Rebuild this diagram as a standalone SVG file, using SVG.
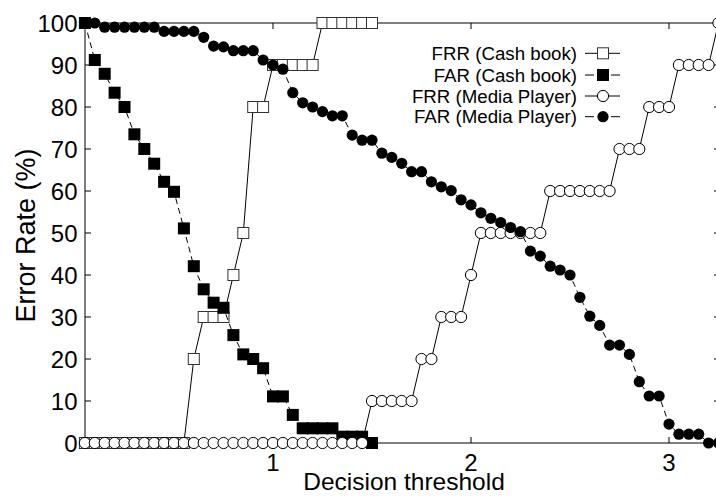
<svg xmlns="http://www.w3.org/2000/svg" xmlns:xlink="http://www.w3.org/1999/xlink" width="716" height="497" viewBox="0 0 716 497">
<style>
text{font-family:"Liberation Sans",Arial,sans-serif;fill:#000}
.tick{font-size:24px}
.ytl{text-anchor:end}
.xtl{text-anchor:middle}
.leg{font-size:18.7px;text-anchor:end}
.ax{stroke:#000;stroke-width:1;fill:none}
.solid{stroke:#000;stroke-width:1;fill:none}
.dash{stroke:#000;stroke-width:1;fill:none;stroke-dasharray:6,4}
</style>
<defs>
<rect id="os" x="-5.5" y="-5.5" width="11" height="11" fill="#fff" stroke="#333" stroke-width="1"/>
<rect id="fs" x="-6" y="-6" width="12" height="12" fill="#000"/>
<circle id="oc" r="5.6" fill="#fff" stroke="#000" stroke-width="1"/>
<circle id="fc" r="5.6" fill="#000"/>
</defs>
<rect width="716" height="497" fill="#fff"/>
<g id="axes">
<path class="ax" d="M85,23V443H720M85,23H720"/>
<path class="ax" d="M85,401h6M85,359h6M85,317h6M85,275h6M85,233h6M85,191h6M85,149h6M85,107h6M85,65h6"/>
<path class="ax" d="M714,401h6M714,359h6M714,317h6M714,275h6M714,233h6M714,191h6M714,149h6M714,107h6M714,65h6"/>
<path class="ax" d="M273,443v-6M471,443v-6M669,443v-6M273,23v6M471,23v6M669,23v6"/>
<g class="tick">
<text class="ytl" x="77.5" y="451.6">0</text>
<text class="ytl" x="77.5" y="409.6">10</text>
<text class="ytl" x="77.5" y="367.6">20</text>
<text class="ytl" x="77.5" y="325.6">30</text>
<text class="ytl" x="77.5" y="283.6">40</text>
<text class="ytl" x="77.5" y="241.6">50</text>
<text class="ytl" x="77.5" y="199.6">60</text>
<text class="ytl" x="77.5" y="157.6">70</text>
<text class="ytl" x="77.5" y="115.6">80</text>
<text class="ytl" x="77.5" y="73.6">90</text>
<text class="ytl" x="77.5" y="31.6">100</text>
<text class="xtl" x="273" y="470.5">1</text>
<text class="xtl" x="471" y="470.5">2</text>
<text class="xtl" x="669" y="470.5">3</text>
</g>
<text x="404" y="490" style="font-size:24.5px;text-anchor:middle">Decision threshold</text>
<text transform="translate(34.5,235.5) rotate(-90)" style="font-size:27px;text-anchor:middle">Error Rate (%)</text>
</g>
<g id="frr-cash">
<polyline class="solid" points="84.9,443 94.8,443 104.7,443 114.6,443 124.5,443 134.4,443 144.3,443 154.2,443 164.1,443 174,443 183.9,443 193.8,359 203.7,317 213.6,317 223.5,317 233.4,275 243.3,233 253.2,107 263.1,107 273,65 282.9,65 292.8,65 302.7,65 312.6,65 322.5,23 332.4,23 342.3,23 352.2,23 362.1,23 372,23"/>
<use href="#os" x="84.9" y="443"/><use href="#os" x="94.8" y="443"/><use href="#os" x="104.7" y="443"/><use href="#os" x="114.6" y="443"/><use href="#os" x="124.5" y="443"/><use href="#os" x="134.4" y="443"/><use href="#os" x="144.3" y="443"/><use href="#os" x="154.2" y="443"/><use href="#os" x="164.1" y="443"/><use href="#os" x="174" y="443"/><use href="#os" x="183.9" y="443"/><use href="#os" x="193.8" y="359"/><use href="#os" x="203.7" y="317"/><use href="#os" x="213.6" y="317"/><use href="#os" x="223.5" y="317"/><use href="#os" x="233.4" y="275"/><use href="#os" x="243.3" y="233"/><use href="#os" x="253.2" y="107"/><use href="#os" x="263.1" y="107"/><use href="#os" x="273" y="65"/><use href="#os" x="282.9" y="65"/><use href="#os" x="292.8" y="65"/><use href="#os" x="302.7" y="65"/><use href="#os" x="312.6" y="65"/><use href="#os" x="322.5" y="23"/><use href="#os" x="332.4" y="23"/><use href="#os" x="342.3" y="23"/><use href="#os" x="352.2" y="23"/><use href="#os" x="362.1" y="23"/><use href="#os" x="372" y="23"/>
</g>
<g id="far-cash">
<polyline class="dash" points="84.9,23 94.8,60 104.7,73.8 114.6,92.7 124.5,107 134.4,134.3 144.3,149 154.2,163.7 164.1,181.8 174,191.8 183.9,228.4 193.8,266.2 203.7,289.3 213.6,302.7 223.5,307.8 233.4,335.1 243.3,354.4 253.2,359 263.1,368.2 273,396.4 282.9,396.4 292.8,414.9 302.7,428.3 312.6,428.3 322.5,428.3 332.4,428.3 342.3,436.7 352.2,436.7 362.1,436.7 372,443"/>
<use href="#fs" x="84.9" y="23"/><use href="#fs" x="94.8" y="60"/><use href="#fs" x="104.7" y="73.8"/><use href="#fs" x="114.6" y="92.7"/><use href="#fs" x="124.5" y="107"/><use href="#fs" x="134.4" y="134.3"/><use href="#fs" x="144.3" y="149"/><use href="#fs" x="154.2" y="163.7"/><use href="#fs" x="164.1" y="181.8"/><use href="#fs" x="174" y="191.8"/><use href="#fs" x="183.9" y="228.4"/><use href="#fs" x="193.8" y="266.2"/><use href="#fs" x="203.7" y="289.3"/><use href="#fs" x="213.6" y="302.7"/><use href="#fs" x="223.5" y="307.8"/><use href="#fs" x="233.4" y="335.1"/><use href="#fs" x="243.3" y="354.4"/><use href="#fs" x="253.2" y="359"/><use href="#fs" x="263.1" y="368.2"/><use href="#fs" x="273" y="396.4"/><use href="#fs" x="282.9" y="396.4"/><use href="#fs" x="292.8" y="414.9"/><use href="#fs" x="302.7" y="428.3"/><use href="#fs" x="312.6" y="428.3"/><use href="#fs" x="322.5" y="428.3"/><use href="#fs" x="332.4" y="428.3"/><use href="#fs" x="342.3" y="436.7"/><use href="#fs" x="352.2" y="436.7"/><use href="#fs" x="362.1" y="436.7"/><use href="#fs" x="372" y="443"/>
</g>
<g id="frr-media">
<polyline class="solid" points="84.9,443 362.1,443 372,401 411.6,401 421.5,359 431.4,359 441.3,317 461.1,317 471,275 480.9,233 540.3,233 550.2,191 609.6,191 619.5,149 639.3,149 649.2,107 669,107 678.9,65 708.6,65 718.5,23"/>
<use href="#oc" x="84.9" y="443"/><use href="#oc" x="94.8" y="443"/><use href="#oc" x="104.7" y="443"/><use href="#oc" x="114.6" y="443"/><use href="#oc" x="124.5" y="443"/><use href="#oc" x="134.4" y="443"/><use href="#oc" x="144.3" y="443"/><use href="#oc" x="154.2" y="443"/><use href="#oc" x="164.1" y="443"/><use href="#oc" x="174" y="443"/><use href="#oc" x="183.9" y="443"/><use href="#oc" x="193.8" y="443"/><use href="#oc" x="203.7" y="443"/><use href="#oc" x="213.6" y="443"/><use href="#oc" x="223.5" y="443"/><use href="#oc" x="233.4" y="443"/><use href="#oc" x="243.3" y="443"/><use href="#oc" x="253.2" y="443"/><use href="#oc" x="263.1" y="443"/><use href="#oc" x="273" y="443"/><use href="#oc" x="282.9" y="443"/><use href="#oc" x="292.8" y="443"/><use href="#oc" x="302.7" y="443"/><use href="#oc" x="312.6" y="443"/><use href="#oc" x="322.5" y="443"/><use href="#oc" x="332.4" y="443"/><use href="#oc" x="342.3" y="443"/><use href="#oc" x="352.2" y="443"/><use href="#oc" x="362.1" y="443"/>
<use href="#oc" x="372" y="401"/><use href="#oc" x="381.9" y="401"/><use href="#oc" x="391.8" y="401"/><use href="#oc" x="401.7" y="401"/><use href="#oc" x="411.6" y="401"/><use href="#oc" x="421.5" y="359"/><use href="#oc" x="431.4" y="359"/><use href="#oc" x="441.3" y="317"/><use href="#oc" x="451.2" y="317"/><use href="#oc" x="461.1" y="317"/><use href="#oc" x="471" y="275"/><use href="#oc" x="480.9" y="233"/><use href="#oc" x="490.8" y="233"/><use href="#oc" x="500.7" y="233"/><use href="#oc" x="510.6" y="233"/><use href="#oc" x="520.5" y="233"/><use href="#oc" x="530.4" y="233"/><use href="#oc" x="540.3" y="233"/><use href="#oc" x="550.2" y="191"/><use href="#oc" x="560.1" y="191"/><use href="#oc" x="570" y="191"/><use href="#oc" x="579.9" y="191"/><use href="#oc" x="589.8" y="191"/><use href="#oc" x="599.7" y="191"/><use href="#oc" x="609.6" y="191"/><use href="#oc" x="619.5" y="149"/><use href="#oc" x="629.4" y="149"/><use href="#oc" x="639.3" y="149"/><use href="#oc" x="649.2" y="107"/><use href="#oc" x="659.1" y="107"/><use href="#oc" x="669" y="107"/><use href="#oc" x="678.9" y="65"/><use href="#oc" x="688.8" y="65"/><use href="#oc" x="698.7" y="65"/><use href="#oc" x="708.6" y="65"/><use href="#oc" x="718.5" y="23"/>
</g>
<g id="far-media">
<polyline class="dash" points="84.9,23 94.8,23 104.7,27.2 114.6,27.2 124.5,27.2 134.4,27.2 144.3,27.2 154.2,27.2 164.1,31.4 174,31.4 183.9,31.4 193.8,31.4 203.7,37.3 213.6,46.1 223.5,46.9 233.4,50.7 243.3,50.7 253.2,50.7 263.1,60 273,65 282.9,69.2 292.8,92.7 302.7,102.8 312.6,107 322.5,111.6 332.4,115.8 342.3,115.8 352.2,135.1 362.1,140.2 372,140.2 381.9,153.2 391.8,157.4 401.7,163.3 411.6,171.7 421.5,171.7 431.4,181.8 441.3,186.8 451.2,190.6 461.1,199.8 471,204.9 480.9,212.8 490.8,218.3 500.7,222.5 510.6,227.5 520.5,231.7 530.4,251.1 540.3,256.1 550.2,266.2 560.1,270 570,275 579.9,297.3 589.8,316.2 599.7,325.4 609.6,345.1 619.5,345.1 629.4,354.4 639.3,381.7 649.2,396 659.1,396 669,424.1 678.9,434.2 688.8,434.2 698.7,434.2 708.6,443 718.5,443"/>
<use href="#fc" x="84.9" y="23"/><use href="#fc" x="94.8" y="23"/><use href="#fc" x="104.7" y="27.2"/><use href="#fc" x="114.6" y="27.2"/><use href="#fc" x="124.5" y="27.2"/><use href="#fc" x="134.4" y="27.2"/><use href="#fc" x="144.3" y="27.2"/><use href="#fc" x="154.2" y="27.2"/><use href="#fc" x="164.1" y="31.4"/><use href="#fc" x="174" y="31.4"/><use href="#fc" x="183.9" y="31.4"/><use href="#fc" x="193.8" y="31.4"/><use href="#fc" x="203.7" y="37.3"/><use href="#fc" x="213.6" y="46.1"/><use href="#fc" x="223.5" y="46.9"/><use href="#fc" x="233.4" y="50.7"/><use href="#fc" x="243.3" y="50.7"/><use href="#fc" x="253.2" y="50.7"/><use href="#fc" x="263.1" y="60"/><use href="#fc" x="273" y="65"/><use href="#fc" x="282.9" y="69.2"/><use href="#fc" x="292.8" y="92.7"/><use href="#fc" x="302.7" y="102.8"/><use href="#fc" x="312.6" y="107"/><use href="#fc" x="322.5" y="111.6"/><use href="#fc" x="332.4" y="115.8"/><use href="#fc" x="342.3" y="115.8"/><use href="#fc" x="352.2" y="135.1"/><use href="#fc" x="362.1" y="140.2"/><use href="#fc" x="372" y="140.2"/><use href="#fc" x="381.9" y="153.2"/><use href="#fc" x="391.8" y="157.4"/><use href="#fc" x="401.7" y="163.3"/><use href="#fc" x="411.6" y="171.7"/><use href="#fc" x="421.5" y="171.7"/><use href="#fc" x="431.4" y="181.8"/><use href="#fc" x="441.3" y="186.8"/><use href="#fc" x="451.2" y="190.6"/><use href="#fc" x="461.1" y="199.8"/><use href="#fc" x="471" y="204.9"/><use href="#fc" x="480.9" y="212.8"/><use href="#fc" x="490.8" y="218.3"/><use href="#fc" x="500.7" y="222.5"/><use href="#fc" x="510.6" y="227.5"/><use href="#fc" x="520.5" y="231.7"/><use href="#fc" x="530.4" y="251.1"/><use href="#fc" x="540.3" y="256.1"/><use href="#fc" x="550.2" y="266.2"/><use href="#fc" x="560.1" y="270"/><use href="#fc" x="570" y="275"/><use href="#fc" x="579.9" y="297.3"/><use href="#fc" x="589.8" y="316.2"/><use href="#fc" x="599.7" y="325.4"/><use href="#fc" x="609.6" y="345.1"/><use href="#fc" x="619.5" y="345.1"/><use href="#fc" x="629.4" y="354.4"/><use href="#fc" x="639.3" y="381.7"/><use href="#fc" x="649.2" y="396"/><use href="#fc" x="659.1" y="396"/><use href="#fc" x="669" y="424.1"/><use href="#fc" x="678.9" y="434.2"/><use href="#fc" x="688.8" y="434.2"/><use href="#fc" x="698.7" y="434.2"/><use href="#fc" x="708.6" y="443"/><use href="#fc" x="718.5" y="443"/>
</g>
<g id="legend">
<text class="leg" x="577" y="60">FRR (Cash book)</text>
<path class="solid" d="M585,53.3H620"/><use href="#os" x="603" y="53.3"/>
<text class="leg" x="577" y="81.7">FAR (Cash book)</text>
<path class="solid" d="M585,75H594M611,75H620"/><use href="#fs" x="603" y="75"/>
<text class="leg" x="577" y="102.7">FRR (Media Player)</text>
<path class="solid" d="M585,96H620"/><use href="#oc" x="603" y="96"/>
<text class="leg" x="577" y="123.4">FAR (Media Player)</text>
<path class="solid" d="M585,116.7H594M611,116.7H620"/><use href="#fc" x="603" y="116.7"/>
</g>
</svg>
